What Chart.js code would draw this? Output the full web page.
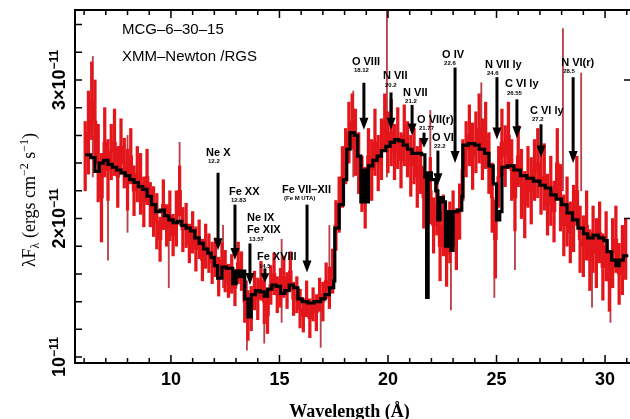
<!DOCTYPE html>
<html>
<head>
<meta charset="utf-8">
<script src="https://cdn.jsdelivr.net/npm/chart.js@4.4.1/dist/chart.umd.min.js"></script>
<style>
  html, body { margin: 0; padding: 0; background: #fff; }
  #wrap { width: 630px; height: 419px; }
</style>
</head>
<body>
<div id="wrap"><canvas id="spec" width="630" height="419"></canvas></div>
<script>
// MCG-6-30-15 RGS spectrum, flux in units of 1e-11 ergs cm^-2 s^-1
var lambdaStart = 6.05;
var binWidth = 0.15;

var flux = [
  2.45, 2.62, 2.85, 2.70, 2.40, 2.15, 2.55, 2.35, 2.48, 2.55,
  2.30, 2.52, 2.40, 2.28, 2.45, 2.20, 2.32, 2.25, 2.12, 2.30, 2.10,
  2.05, 1.98, 1.85, 2.10, 1.95, 2.02, 1.88, 2.00, 2.20, 1.92,
  1.95, 1.82, 1.90, 1.78, 1.85, 1.70, 1.80, 1.75, 1.68, 1.72,
  1.58, 1.70, 1.62, 1.55, 1.60, 1.50, 1.68, 1.62, 1.40, 1.30,
  1.35, 1.48, 1.42, 1.55, 1.40, 1.30, 1.52, 1.60, 1.45, 1.50,
  1.58, 1.48, 1.62, 1.42, 1.45, 1.35, 1.30, 1.42, 1.28, 1.38,
  1.32, 1.45, 1.40, 1.55, 1.50, 1.62, 1.95, 2.10, 2.30, 2.45,
  2.62, 2.70, 2.55, 2.40, 2.25, 2.15, 2.45, 2.35, 2.55, 2.40,
  2.50, 2.70, 2.55, 2.62, 2.48, 2.58, 2.42, 2.60, 2.50, 2.38,
  2.45, 2.30, 2.38, 2.15, 2.05, 2.20, 1.95, 2.10, 1.80, 1.95,
  1.75, 1.90, 2.00, 1.85, 2.05, 2.35, 2.50, 2.60, 2.45, 2.55,
  2.65, 2.50, 2.60, 2.40, 2.15, 1.85, 2.30, 2.55, 2.45, 2.60,
  2.35, 2.15, 2.45, 2.25, 2.10, 2.30, 2.20, 2.35, 2.40, 2.25,
  2.30, 2.10, 2.20, 2.05, 2.40, 2.15, 1.95, 2.05, 1.90, 2.00,
  2.20, 1.85, 1.80, 1.95, 1.70, 1.85, 1.75, 1.90, 1.65, 1.80,
  1.55, 1.75, 1.85, 1.60, 1.70, 1.78
];

var fluxErr = [
  0.25, 0.30, 0.28, 0.30, 0.28, 0.32, 0.25, 0.22, 0.20, 0.24,
  0.22, 0.20, 0.18, 0.22, 0.20, 0.18, 0.20, 0.22, 0.18, 0.20, 0.16,
  0.18, 0.20, 0.16, 0.18, 0.15, 0.18, 0.15, 0.20, 0.18, 0.16,
  0.16, 0.14, 0.15, 0.16, 0.14, 0.15, 0.16, 0.14, 0.15, 0.14,
  0.14, 0.13, 0.15, 0.12, 0.14, 0.13, 0.15, 0.14, 0.15, 0.18,
  0.16, 0.14, 0.15, 0.14, 0.16, 0.13, 0.14, 0.15, 0.13, 0.14,
  0.15, 0.13, 0.14, 0.12, 0.13, 0.14, 0.12, 0.13, 0.14, 0.12,
  0.13, 0.12, 0.14, 0.13, 0.15, 0.16, 0.18, 0.20, 0.22, 0.20,
  0.22, 0.20, 0.24, 0.22, 0.20, 0.22, 0.20, 0.22, 0.24, 0.20,
  0.22, 0.20, 0.22, 0.24, 0.20, 0.22, 0.20, 0.22, 0.20, 0.22,
  0.20, 0.22, 0.20, 0.22, 0.20, 0.24, 0.20, 0.22, 0.25, 0.22,
  0.24, 0.22, 0.20, 0.22, 0.20, 0.22, 0.20, 0.22, 0.24, 0.22,
  0.25, 0.22, 0.24, 0.22, 0.25, 0.28, 0.22, 0.24, 0.22, 0.24,
  0.22, 0.24, 0.22, 0.25, 0.24, 0.22, 0.24, 0.22, 0.25, 0.22,
  0.24, 0.22, 0.25, 0.22, 0.25, 0.24, 0.22, 0.25, 0.22, 0.24,
  0.25, 0.24, 0.22, 0.25, 0.22, 0.24, 0.25, 0.22, 0.24, 0.25,
  0.22, 0.25, 0.24, 0.22, 0.25, 0.22
];

// outlying error bars [wavelength, low, high]
var whiskers = [
  [6.40, 2.30, 3.17], [6.80, 1.85, 2.45], [7.10, 1.70, 2.40], [8.00, 1.90, 2.60],
  [9.90, 1.50, 2.10], [10.40, 1.95, 2.55], [12.40, 1.50, 1.95], [13.50, 1.05, 1.55],
  [14.30, 1.10, 1.60], [15.10, 1.25, 1.85], [16.90, 1.07, 1.45], [17.30, 1.45, 1.95],
  [18.40, 2.30, 2.92], [19.95, 2.30, 3.60], [21.95, 2.00, 2.78], [22.90, 1.34, 1.90],
  [24.30, 2.40, 2.98], [24.90, 1.43, 2.10], [25.85, 1.63, 2.20], [28.06, 2.20, 3.37],
  [28.90, 2.20, 3.05], [29.40, 1.36, 1.90], [30.25, 1.25, 1.70]
];

// best-fit model (step edges)
var modelLambda = [
  6.05, 6.30, 6.50, 6.70, 6.90, 7.10, 7.30, 7.50, 7.70, 7.90,
  8.10, 8.30, 8.50, 8.70, 8.90, 9.10, 9.30, 9.50, 9.70, 9.90,
  10.10, 10.30, 10.50, 10.70, 10.90, 11.10, 11.30, 11.50, 11.70, 11.85,
  12.00, 12.15, 12.35, 12.55, 12.85, 13.00, 13.15, 13.30, 13.40, 13.55,
  13.70, 13.90, 14.10, 14.30, 14.45, 14.65, 14.85, 15.05, 15.25, 15.45,
  15.65, 15.85, 16.05, 16.30, 16.60, 16.90, 17.10, 17.30, 17.50, 17.55,
  17.75, 17.95, 18.10, 18.25, 18.45, 18.60, 18.75, 18.90, 19.00, 19.10,
  19.30, 19.50, 19.70, 19.90, 20.10, 20.30, 20.50, 20.70, 20.90, 21.10,
  21.30, 21.55, 21.70, 21.78, 21.85, 22.00, 22.20, 22.30, 22.40, 22.55,
  22.65, 22.75, 22.90, 23.00, 23.20, 23.40, 23.45, 23.70, 24.00, 24.20,
  24.45, 24.65, 24.85, 25.00, 25.15, 25.25, 25.50, 25.80, 26.10, 26.40,
  26.70, 27.00, 27.25, 27.50, 27.75, 28.00, 28.25, 28.50, 28.75, 29.00,
  29.20, 29.45, 29.70, 29.95, 30.10, 30.30, 30.50, 30.65, 30.85, 31.00
];
var modelFlux = [
  2.46, 2.44, 2.34, 2.40, 2.42, 2.39, 2.37, 2.35, 2.33, 2.31,
  2.28, 2.26, 2.23, 2.21, 2.16, 2.10, 2.05, 2.06, 2.02, 1.99,
  1.97, 1.98, 1.95, 1.93, 1.91, 1.86, 1.82, 1.78, 1.75, 1.72,
  1.66, 1.57, 1.65, 1.64, 1.53, 1.62, 1.58, 1.62, 1.42, 1.29,
  1.45, 1.48, 1.47, 1.44, 1.49, 1.52, 1.51, 1.46, 1.48, 1.52,
  1.50, 1.42, 1.40, 1.39, 1.40, 1.42, 1.45, 1.50, 1.55, 1.93,
  2.10, 2.28, 2.50, 2.62, 2.60, 2.45, 2.12, 2.35, 2.12, 2.38,
  2.42, 2.45, 2.49, 2.52, 2.55, 2.57, 2.56, 2.53, 2.50, 2.47,
  2.47, 2.46, 2.30, 1.43, 2.33, 2.28, 2.20, 1.99, 2.15, 2.12,
  1.80, 2.05, 1.77, 2.05, 2.06, 2.16, 2.53, 2.54, 2.53, 2.50,
  2.47, 2.38, 2.25, 1.99, 2.05, 2.37, 2.38, 2.35, 2.31, 2.29,
  2.27, 2.24, 2.22, 2.17, 2.14, 2.10, 2.04, 1.99, 1.93, 1.89,
  1.86, 1.88, 1.86, 1.84, 1.76, 1.70, 1.66, 1.70, 1.73, 1.72
];

var xTickLabels = [10, 15, 20, 25, 30];
var yTickLabels = [1, 2, 3];

// line identifications: arrow from "top" down to "tip" (flux units)
var lines = [
  { name: ['Ne X'], num: '12.2', lam: 12.17, top: 2.33, tip: 1.77, dx: -12, dy: -20 },
  { name: ['Fe XX'], num: '12.83', lam: 12.95, top: 2.10, tip: 1.70, dx: -6, dy: -13 },
  { name: ['Ne IX', 'Fe XIX'], num: '13.57', lam: 13.64, top: 1.82, tip: 1.52, dx: -3, dy: -25 },
  { name: ['Fe XVIII'], num: '14.5', lam: 14.33, top: 1.64, tip: 1.54, dx: -8, dy: -11 },
  { name: ['Fe VII\u2013XII'], num: '(Fe M UTA)', lam: 16.27, top: 2.10, tip: 1.61, dx: -25, dy: -15 },
  { name: ['O VIII'], num: '18.12', lam: 18.89, top: 2.98, tip: 2.64, dx: -12, dy: -21 },
  { name: ['N VII'], num: '20.2', lam: 20.14, top: 2.91, tip: 2.64, dx: -8, dy: -16 },
  { name: ['N VII'], num: '21.2', lam: 21.11, top: 2.82, tip: 2.60, dx: -9, dy: -12 },
  { name: ['O VII(r)'], num: '21.77', lam: 21.66, top: 2.62, tip: 2.51, dx: -7, dy: -13 },
  { name: ['O VI'], num: '22.2', lam: 22.30, top: 2.49, tip: 2.24, dx: -6, dy: -13 },
  { name: ['O IV'], num: '22.6', lam: 23.09, top: 3.09, tip: 2.40, dx: -13, dy: -13 },
  { name: ['N VII ly'], num: '24.6', lam: 25.02, top: 3.02, tip: 2.57, dx: -12, dy: -12 },
  { name: ['C VI ly'], num: '26.55', lam: 25.94, top: 2.86, tip: 2.58, dx: -12, dy: -15 },
  { name: ['C VI ly'], num: '27.2', lam: 27.05, top: 2.68, tip: 2.44, dx: -11, dy: -13 },
  { name: ['N VI(r)'], num: '28.5', lam: 28.53, top: 3.02, tip: 2.40, dx: -12, dy: -14 }
];

var SANS = '"Liberation Sans", Arial, sans-serif';
var SERIF = '"Liberation Serif", "Times New Roman", serif';
var RED = '#e3161b';

var errBars = flux.map(function (f, i) {
  return { x: lambdaStart + i * binWidth, y: [f - fluxErr[i], f + fluxErr[i]] };
});
var dataLine = flux.map(function (f, i) {
  return { x: lambdaStart + i * binWidth, y: f };
});
var whiskerBars = whiskers.map(function (w) {
  return { x: w[0], y: [w[1], w[2]] };
});
var modelLine = modelLambda.map(function (l, i) {
  return { x: l, y: modelFlux[i] };
});

function drawArrow(ctx, x, y0, y1) {
  var len = y1 - y0;
  var head = Math.min(12, len * 0.65);
  ctx.beginPath();
  ctx.moveTo(x, y0);
  ctx.lineTo(x, y1 - head + 1);
  ctx.stroke();
  ctx.beginPath();
  ctx.moveTo(x - 4.5, y1 - head);
  ctx.lineTo(x + 4.5, y1 - head);
  ctx.lineTo(x, y1);
  ctx.closePath();
  ctx.fill();
}

var decor = {
  id: 'decor',
  afterDatasetsDraw: function (chart) {
    var ctx = chart.ctx;
    var a = chart.chartArea;
    var xs = chart.scales.x, ys = chart.scales.y;
    ctx.save();
    ctx.fillStyle = '#000';
    ctx.strokeStyle = '#000';

    // frame
    ctx.lineWidth = 2;
    ctx.beginPath();
    ctx.moveTo(a.right, a.top);
    ctx.lineTo(a.left, a.top);
    ctx.lineTo(a.left, a.bottom);
    ctx.lineTo(a.right, a.bottom);
    ctx.stroke();

    // inward ticks
    ctx.lineWidth = 1.5;
    ctx.beginPath();
    for (var k = 6; k <= 31; k++) {
      var px = xs.getPixelForValue(k);
      var L = (k % 5 === 0) ? 8 : 5;
      ctx.moveTo(px, a.bottom); ctx.lineTo(px, a.bottom - L);
      ctx.moveTo(px, a.top); ctx.lineTo(px, a.top + L);
    }
    for (var j = 5; j <= 17; j++) {
      var py = ys.getPixelForValue(j * 0.2);
      ctx.moveTo(a.left, py); ctx.lineTo(a.left + 7, py);
    }
    yTickLabels.forEach(function (v) {
      if (v === 1) return;
      var py = ys.getPixelForValue(v);
      ctx.moveTo(a.right, py); ctx.lineTo(a.right - 6, py);
    });
    ctx.stroke();

    // y tick labels (rotated)
    yTickLabels.forEach(function (v) {
      var py = ys.getPixelForValue(v);
      var main = v === 1 ? '10' : v + '\u00d710';
      var sup = '\u221211';
      ctx.save();
      ctx.translate(65, py);
      ctx.rotate(-Math.PI / 2);
      ctx.textBaseline = 'alphabetic';
      ctx.textAlign = 'left';
      ctx.font = 'bold 18px ' + SANS;
      var w1 = ctx.measureText(main).width;
      ctx.font = 'bold 12px ' + SANS;
      var w2 = ctx.measureText(sup).width;
      var sx = -(w1 + w2) / 2;
      ctx.font = 'bold 18px ' + SANS;
      ctx.fillText(main, sx, 0);
      ctx.font = 'bold 12px ' + SANS;
      ctx.fillText(sup, sx + w1, -7);
      ctx.restore();
    });

    // y axis title
    var parts = [
      { t: '\u03bbF', s: 18, d: 0 },
      { t: '\u03bb', s: 12, d: 4 },
      { t: ' (ergs cm', s: 18, d: 0 },
      { t: '\u22122', s: 12, d: -7 },
      { t: ' s', s: 18, d: 0 },
      { t: '\u22121', s: 12, d: -7 },
      { t: ')', s: 18, d: 0 }
    ];
    ctx.save();
    ctx.translate(35, 200);
    ctx.rotate(-Math.PI / 2);
    ctx.textBaseline = 'alphabetic';
    var tw = 0;
    parts.forEach(function (p) { ctx.font = p.s + 'px ' + SERIF; p.w = ctx.measureText(p.t).width; tw += p.w; });
    var cx = -tw / 2;
    parts.forEach(function (p) { ctx.font = p.s + 'px ' + SERIF; ctx.fillText(p.t, cx, p.d); cx += p.w; });
    ctx.restore();

    // x axis title
    ctx.font = 'bold 18px ' + SERIF;
    ctx.textAlign = 'center';
    ctx.textBaseline = 'alphabetic';
    ctx.fillText('Wavelength (\u00c5)', (a.left + a.right) / 2 - 3, 417);

    // source labels
    ctx.textAlign = 'left';
    ctx.textBaseline = 'middle';
    ctx.font = '15px ' + SANS;
    ctx.fillText('MCG\u20136\u201330\u201315', 122, 30);
    ctx.fillText('XMM\u2013Newton /RGS', 122, 57);

    // line identifications
    ctx.lineWidth = 3;
    lines.forEach(function (ln) {
      var x = xs.getPixelForValue(ln.lam);
      var y0 = ys.getPixelForValue(ln.top);
      var y1 = ys.getPixelForValue(ln.tip);
      drawArrow(ctx, x, y0, y1);
      var tx = x + ln.dx;
      var ty = y0 + ln.dy;
      ctx.font = 'bold 11px ' + SANS;
      ln.name.forEach(function (s, n) { ctx.fillText(s, tx, ty + n * 12); });
      ctx.font = 'bold 6px ' + SANS;
      ctx.fillText(ln.num, tx + 2, ty + (ln.name.length - 1) * 12 + 8.5);
    });
    ctx.restore();
  }
};

new Chart(document.getElementById('spec'), {
  type: 'bar',
  data: {
    datasets: [
      { type: 'line', data: modelLine, borderColor: '#000', borderWidth: 3.2,
        pointRadius: 0, stepped: true, fill: false, order: 0 },
      { type: 'line', data: dataLine, borderColor: RED, borderWidth: 1.3,
        pointRadius: 0, stepped: 'middle', fill: false, order: 1 },
      { type: 'bar', data: errBars, backgroundColor: RED, barThickness: 2.6,
        grouped: false, order: 2 },
      { type: 'bar', data: whiskerBars, backgroundColor: '#b8424a', barThickness: 1.2,
        grouped: false, order: 3 }
    ]
  },
  options: {
    responsive: false,
    animation: false,
    layout: { padding: { top: 10, right: 0, left: 0, bottom: 0 } },
    plugins: { legend: { display: false }, tooltip: { enabled: false } },
    scales: {
      x: {
        type: 'linear', min: 5.58, max: 31.15, offset: false,
        grid: { display: false, drawTicks: false },
        border: { display: false },
        afterBuildTicks: function (s) { s.ticks = xTickLabels.map(function (v) { return { value: v }; }); },
        ticks: {
          padding: 6, color: '#000', maxRotation: 0, autoSkip: false,
          font: { family: 'Liberation Sans', weight: 'bold', size: 18 }
        },
        afterFit: function (s) { s.height = 56; }
      },
      y: {
        type: 'linear', min: 0.957, max: 3.505,
        grid: { display: false, drawTicks: false },
        border: { display: false },
        ticks: { display: false },
        afterFit: function (s) { s.width = 75; }
      }
    }
  },
  plugins: [decor]
});
</script>
</body>
</html>
